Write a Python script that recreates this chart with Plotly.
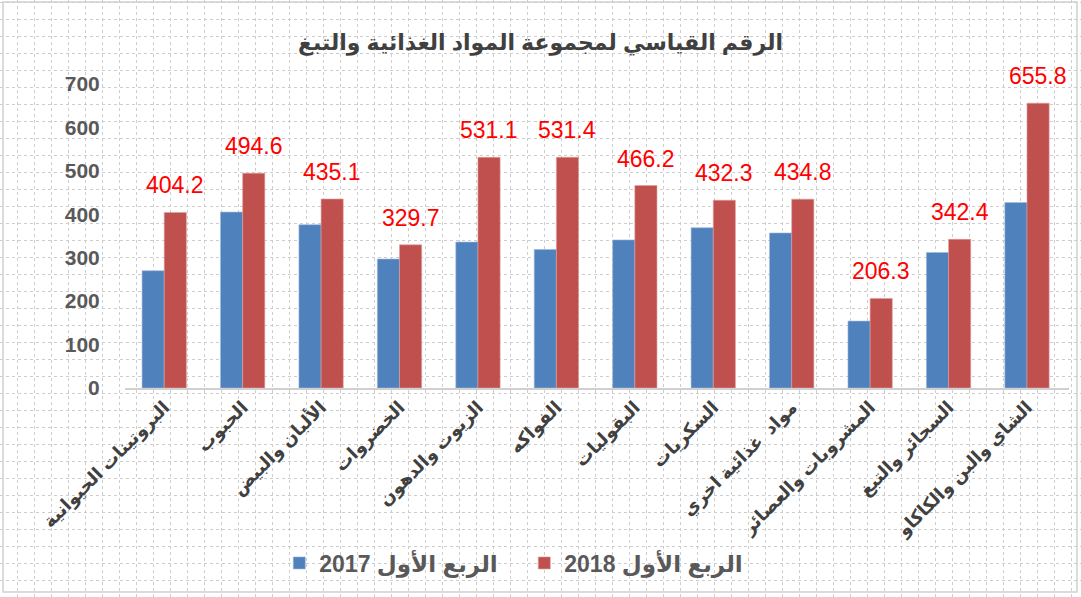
import plotly.graph_objects as go

W, H = 1081, 597

categories = [
    "البروتينات الحيوانية",
    "الحبوب",
    "الألبان والبيض",
    "الخضروات",
    "الزيوت والدهون",
    "الفواكه",
    "البقوليات",
    "السكريات",
    "مواد  غذائية اخري",
    "المشروبات والعصائر",
    "السجائر والتبغ",
    "الشاي والبن والكاكاو",
]
q1_2017 = [270, 405, 376, 297, 336, 319, 341, 369, 357, 154, 312, 427]
q1_2018 = [404.2, 494.6, 435.1, 329.7, 531.1, 531.4, 466.2, 432.3, 434.8, 206.3, 342.4, 655.8]
series_names = ["الربع الأول 2017", "الربع الأول 2018"]
title_text = "الرقم القياسي لمجموعة المواد الغذائية والتبغ"
y_ticks = [0, 100, 200, 300, 400, 500, 600, 700]

BLUE = "#4F81BD"
RED = "#C0504D"
FONT = "Arial, 'Liberation Sans', 'DejaVu Sans', sans-serif"

fig = go.Figure()

# invisible trace so the background-grid subplot exists
fig.add_trace(go.Scatter(x=[0], y=[0], xaxis="x", yaxis="y", mode="markers",
                         marker=dict(opacity=0), showlegend=False, hoverinfo="skip"))

fig.add_trace(go.Bar(x=categories, y=q1_2017, name=series_names[0], marker_color=BLUE,
                     marker_line=dict(color="#9db8dc", width=0.6),
                     xaxis="x2", yaxis="y2"))
fig.add_trace(go.Bar(x=categories, y=q1_2018, name=series_names[1], marker_color=RED,
                     marker_line=dict(color="#dda09e", width=0.6),
                     xaxis="x2", yaxis="y2"))

for c, v in zip(categories, q1_2018):
    fig.add_annotation(x=c, y=v, xref="x2", yref="y2", text=f"{v:.1f}",
                       showarrow=False, yanchor="bottom", xshift=11, yshift=12,
                       font=dict(family=FONT, size=23, color="#FF0000"))

x0, x1 = 125 / W, 1069 / W
y0, y1 = 1 - 388 / H, 1 - 84 / H

fig.update_layout(
    width=W, height=H,
    margin=dict(l=0, r=0, t=0, b=0, pad=0, autoexpand=False),
    paper_bgcolor="white",
    plot_bgcolor="rgba(0,0,0,0)",
    barmode="group",
    bargap=0.435,
    bargroupgap=0,
    font=dict(family=FONT, color="#404040"),
    title=dict(text=f"<b>{title_text}</b>", x=0.5, xanchor="center",
               y=1 - 42 / H, yanchor="middle", automargin=False,
               font=dict(family=FONT, size=22, color="#404040")),
    xaxis=dict(domain=[0, 1], range=[0, W], dtick=17, tick0=0, automargin=False,
               showgrid=True, gridcolor="#cdcdcd", griddash="dot", gridwidth=1,
               showticklabels=False, zeroline=False, showline=False, fixedrange=True),
    yaxis=dict(domain=[0, 1], range=[H, 0], dtick=17, tick0=2, automargin=False,
               showgrid=True, gridcolor="#cdcdcd", griddash="dot", gridwidth=1,
               showticklabels=False, zeroline=False, showline=False, fixedrange=True),
    xaxis2=dict(domain=[x0, x1], anchor="y2", type="category", automargin=False,
                tickangle=-45, showgrid=False, showline=True,
                linecolor="#d0d0d0", linewidth=1.5, ticks="",
                tickfont=dict(family=FONT, size=18, color="#404040", weight="bold"),
                fixedrange=True),
    yaxis2=dict(domain=[y0, y1], anchor="x2", range=[0, 700], tickvals=y_ticks,
                automargin=False,
                showgrid=False, zeroline=False, showline=False,
                ticks="outside", ticklen=20, tickcolor="rgba(0,0,0,0)",
                tickfont=dict(family=FONT, size=21, color="#595959", weight="bold"),
                fixedrange=True),
    legend=dict(orientation="h", x=0.485, xanchor="center", y=1 - 563 / H,
                yanchor="middle", bgcolor="rgba(0,0,0,0)",
                font=dict(family=FONT, size=23, color="#595959", weight="bold"),
                entrywidth=200, entrywidthmode="pixels",
                traceorder="normal"),
    shapes=[dict(type="rect", xref="paper", yref="paper",
                 x0=3 / W, x1=1 - 4 / W, y0=1 - 592 / H, y1=1 - 2 / H,
                 line=dict(color="#d0d0d0", width=1.5), fillcolor="rgba(0,0,0,0)")],
)

fig.write_html("out.html", config={"displayModeBar": False},
               post_script="document.body.style.margin='0px';")
